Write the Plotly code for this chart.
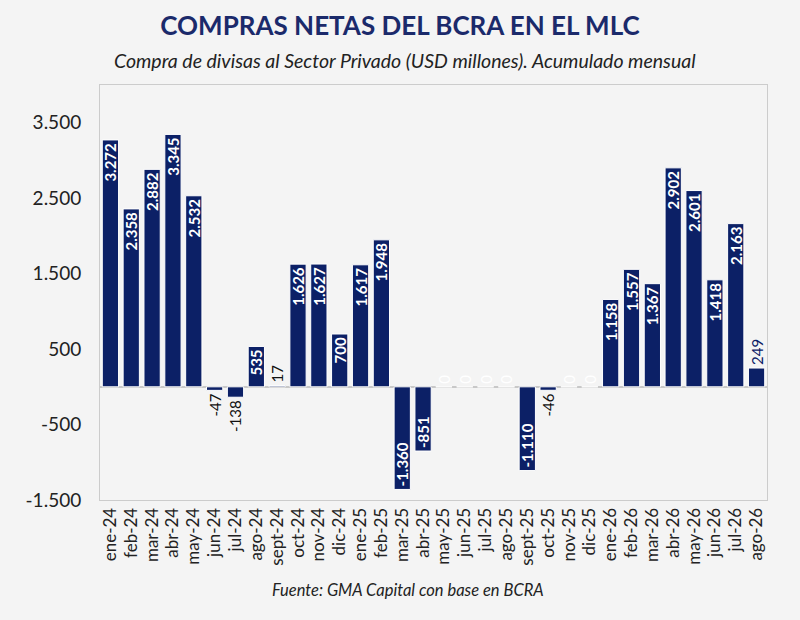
import plotly.graph_objects as go

# --- data ---
months = ["ene-24", "feb-24", "mar-24", "abr-24", "may-24", "jun-24", "jul-24", "ago-24",
          "sept-24", "oct-24", "nov-24", "dic-24", "ene-25", "feb-25", "mar-25", "abr-25",
          "may-25", "jun-25", "jul-25", "ago-25", "sept-25", "oct-25", "nov-25", "dic-25",
          "ene-26", "feb-26", "mar-26", "abr-26", "may-26", "jun-26", "jul-26", "ago-26"]
compras = [3272, 2358, 2882, 3345, 2532, -47, -138, 535,
           17, 1626, 1627, 700, 1617, 1948, -1360, -851,
           0, 0, 0, 0, -1110, -46, 0, 0,
           1158, 1557, 1367, 2902, 2601, 1418, 2163, 249]
y_ticks = [-1500, -500, 500, 1500, 2500, 3500]

NAVY = "#0c2066"
BG = "#f4f4f4"
TXT = "#222222"


def fmt(v):
    # spanish style thousands separator, plain hyphen for negatives
    return f"{v:,}".replace(",", ".")


labels = [fmt(v) for v in compras]
# small bars get their label outside, the rest inside
positions = []
colors = []
for v in compras:
    if v == 0:
        positions.append("outside")
        colors.append("white")
    elif abs(v) < 500:
        positions.append("outside")
        colors.append(NAVY if v > 200 else "#111111")
    else:
        positions.append("inside")
        colors.append("white")

fig = go.Figure()
fig.add_trace(go.Bar(
    x=months,
    y=compras,
    text=labels,
    textposition=positions,
    textangle=-90,
    insidetextanchor="end",
    constraintext="none",
    textfont=dict(family="Lato", size=15, color=colors),
    insidetextfont=dict(family="Lato", size=15, color="white", weight="bold"),
    marker=dict(color=NAVY, line=dict(color="white", width=1)),
    cliponaxis=False,
))

fig.update_layout(
    width=800, height=620,
    paper_bgcolor=BG, plot_bgcolor=BG,
    margin=dict(l=100, r=33, t=85, b=120),
    bargap=0.22,
    showlegend=False,
    font=dict(family="Lato", color=TXT),
    title=dict(
        text="<b>COMPRAS NETAS DEL BCRA EN EL MLC</b>",
        x=0.5, xref="container", xanchor="center",
        y=1 - 26 / 620, yref="container", yanchor="middle",
        font=dict(family="Lato", size=26, color="#1b2a6b"),
    ),
)

fig.add_annotation(text="<i>Compra de divisas al Sector Privado (USD millones). Acumulado mensual</i>",
                   xref="paper", yref="paper", x=0.457, y=1.06, xanchor="center", yanchor="middle",
                   showarrow=False, font=dict(family="Lato", size=19.5, color=TXT))
fig.add_annotation(text="<i>Fuente: GMA Capital con base en BCRA</i>",
                   xref="paper", yref="paper", x=0.462, y=-0.217, xanchor="center", yanchor="middle",
                   showarrow=False, font=dict(family="Lato", size=16.5, color=TXT))

fig.update_yaxes(
    range=[-1500, 4000],
    tickvals=y_ticks,
    ticktext=[fmt(t) for t in y_ticks],
    showgrid=False,
    zeroline=True, zerolinecolor="#c8c8c8", zerolinewidth=1.5,
    showline=True, linecolor="#cccccc", linewidth=1, mirror=True,
    tickfont=dict(family="Lato", size=19, color=TXT),
    ticks="", ticklabelstandoff=14,
)
fig.update_xaxes(
    tickangle=-90,
    showgrid=False,
    showline=True, linecolor="#cccccc", linewidth=1, mirror=True,
    tickfont=dict(family="Lato", size=17, color=TXT),
)

# drop the default body margin so the 800x620 figure fills the window
fig.write_html("out.html", config={"displayModeBar": False},
               post_script="document.body.style.margin = '0';")
